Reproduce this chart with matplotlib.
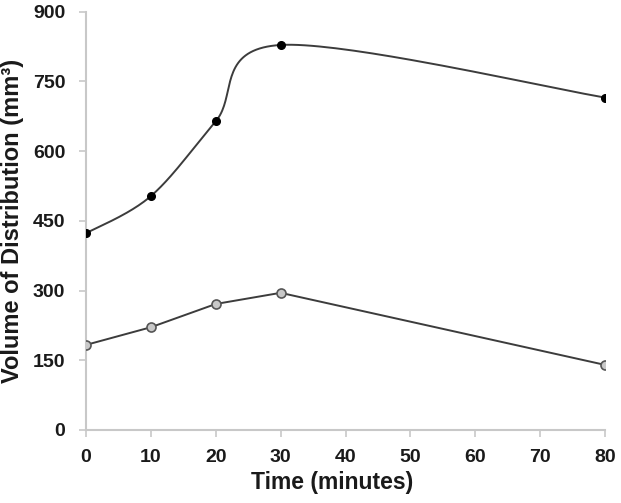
import numpy as np
import matplotlib
matplotlib.use("Agg")
import matplotlib.pyplot as plt

time_min = [0, 10, 20, 30, 80]
upper_vals = [423, 503, 664, 828, 715]
lower_vals = [183, 221, 271, 295, 140]
x_ticks = [0, 10, 20, 30, 40, 50, 60, 70, 80]
y_ticks = [0, 150, 300, 450, 600, 750, 900]

plt.rcParams['font.family'] = ['Liberation Sans', 'DejaVu Sans']

fig = plt.figure(figsize=(6.21, 5.03), dpi=100)
ax = fig.add_axes([86/621, 73/503, 519/621, 418.5/503])

XMAX, YMAX = 80, 900
W, H = 519.0, 418.5


def smooth(xs, ys, n=40):
    # Catmull-Rom spline in screen-scaled space (Excel-like smoothing)
    px = np.array(xs, float) / XMAX * W
    py = np.array(ys, float) / YMAX * H
    P = np.column_stack([px, py])
    P = np.vstack([P[0], P, P[-1]])
    out = []
    for i in range(1, len(P) - 2):
        p0, p1, p2, p3 = P[i-1], P[i], P[i+1], P[i+2]
        c1 = p1 + (p2 - p0) / 6.0
        c2 = p2 - (p3 - p1) / 6.0
        t = np.linspace(0, 1, n)[:, None]
        seg = ((1-t)**3)*p1 + 3*((1-t)**2)*t*c1 + 3*(1-t)*t**2*c2 + t**3*p2
        out.append(seg if i == 1 else seg[1:])
    S = np.vstack(out)
    return S[:, 0] / W * XMAX, S[:, 1] / H * YMAX


line_col = '#3c3c3c'
sx, sy = smooth(time_min, upper_vals)
ax.plot(sx, sy, color=line_col, lw=1.4, zorder=2)
ax.plot(time_min, upper_vals, 'o', color='black', ms=5.5, zorder=3)

ax.plot(time_min, lower_vals, '-', color=line_col, lw=1.4, zorder=2)
ax.plot(time_min, lower_vals, 'o', mfc='#c8c8c8', mec='#555555', mew=1.2,
        ms=6.5, zorder=3)

ax.set_xlim(0, 80)
ax.set_ylim(0, 900)
ax.set_xticks(x_ticks)
ax.set_yticks(y_ticks)
for s in ['top', 'right']:
    ax.spines[s].set_visible(False)
for s in ['left', 'bottom']:
    ax.spines[s].set_color('#c8c8c8')
    ax.spines[s].set_linewidth(1.5)
ax.tick_params(axis='both', direction='out', length=5, width=1.2,
               color='#c8c8c8', labelsize=14, labelcolor='#1a1a1a')
ax.tick_params(axis='x', pad=9)
ax.tick_params(axis='y', pad=10)
for lab in ax.get_xticklabels() + ax.get_yticklabels():
    lab.set_fontweight('bold')

ax.set_xlabel('Time (minutes)', fontsize=16.5, fontweight='bold',
              color='#1a1a1a', labelpad=3)
ax.xaxis.label.set_x(0.474)
ax.set_ylabel('Volume of Distribution (mm³)', fontsize=17,
              fontweight='bold', color='#1a1a1a', labelpad=6)
for sp in ax.spines.values():
    sp.set_zorder(1)

fig.savefig('out.png', dpi=100)
